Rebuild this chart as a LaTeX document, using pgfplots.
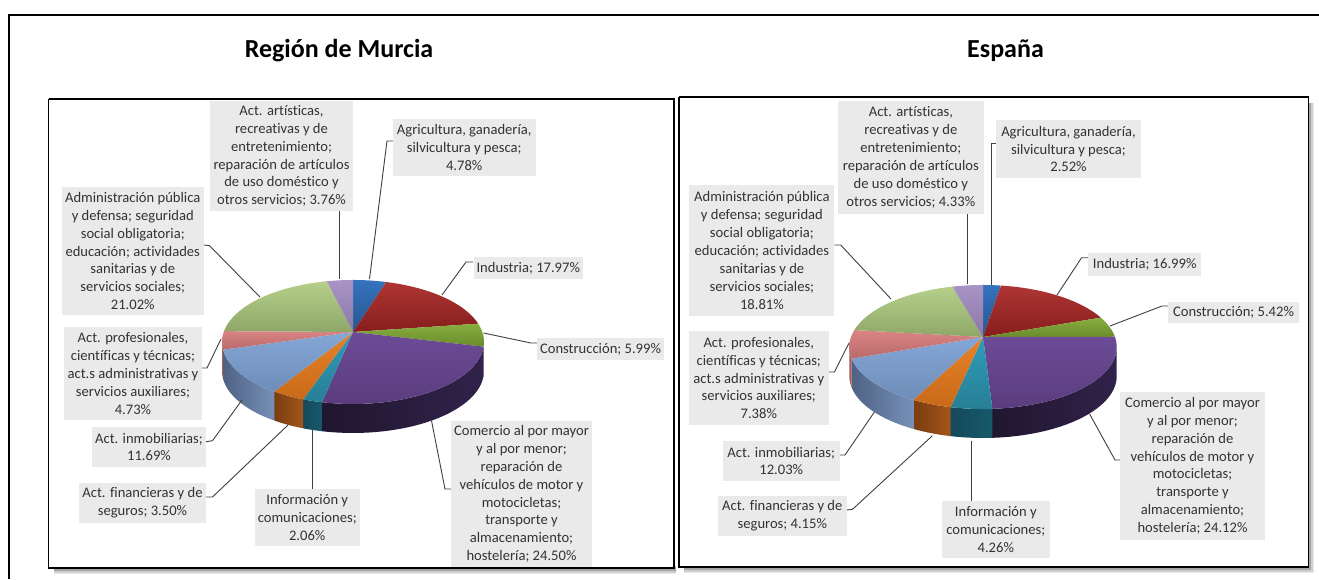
\documentclass[border=0pt]{standalone}
\usepackage{pgfplots}
\usepackage{fontspec}
\setmainfont{Carlito}[Ligatures=NoCommon]
\pgfplotsset{compat=1.18}
\definecolor{s1t}{HTML}{3673BE}\definecolor{s1b}{HTML}{26558F}\definecolor{s1l}{HTML}{26558F}\definecolor{s1r}{HTML}{1C3F6B}
\definecolor{s2t}{HTML}{AE3634}\definecolor{s2b}{HTML}{861E1C}\definecolor{s2l}{HTML}{7A1C1A}\definecolor{s2r}{HTML}{5E1412}
\definecolor{s3t}{HTML}{88AE3E}\definecolor{s3b}{HTML}{6A8C2C}\definecolor{s3l}{HTML}{55701F}\definecolor{s3r}{HTML}{445A18}
\definecolor{s4t}{HTML}{6C4C96}\definecolor{s4b}{HTML}{5A3C7E}\definecolor{s4l}{HTML}{30224A}\definecolor{s4r}{HTML}{21162F}
\definecolor{s5t}{HTML}{2F9CBA}\definecolor{s5b}{HTML}{277F95}\definecolor{s5l}{HTML}{15596B}\definecolor{s5r}{HTML}{154A5A}
\definecolor{s6t}{HTML}{E8822A}\definecolor{s6b}{HTML}{C86A18}\definecolor{s6l}{HTML}{A4561A}\definecolor{s6r}{HTML}{7A3D10}
\definecolor{s7t}{HTML}{85A7D7}\definecolor{s7b}{HTML}{6E8DB8}\definecolor{s7l}{HTML}{7690B8}\definecolor{s7r}{HTML}{4E6283}
\definecolor{s8t}{HTML}{DA8484}\definecolor{s8b}{HTML}{B86A6A}\definecolor{s8l}{HTML}{A85C5C}\definecolor{s8r}{HTML}{A85C5C}
\definecolor{s9t}{HTML}{B6D08A}\definecolor{s9b}{HTML}{8EA769}\definecolor{s9l}{HTML}{7F9558}\definecolor{s9r}{HTML}{7F9558}
\definecolor{s10t}{HTML}{A994C6}\definecolor{s10b}{HTML}{8A78A4}\definecolor{s10l}{HTML}{6E5F85}\definecolor{s10r}{HTML}{6E5F85}
\definecolor{boxg}{HTML}{EAEAEA}
\definecolor{leader}{HTML}{3F3F3F}
\newcommand\setpie[3]{\gdef\cx{#1}\gdef\cy{#2}\gdef\rb{#3}\gdef\running{0}}
\newcommand\buildarc[3]{%
  \pgfmathtruncatemacro\nn{max(2,ceil(abs(#2-#1)/3))}%
  \foreach \i in {0,...,\nn}{%
    \pgfmathsetmacro\ph{#1+(#2-#1)*\i/\nn}%
    \pgfmathsetmacro\den{1+0.161*cos(\ph)}%
    \pgfmathsetmacro\px{\cx+\rb*sin(\ph)/\den}%
    \pgfmathsetmacro\py{\cy-60.4*cos(\ph)/\den+#3}%
    \xdef\coords{\coords (\px,\py)}%
  }%
}
\newcommand\slice[2]{%
  \pgfmathsetmacro\ss{\running*3.6}%
  \pgfmathsetmacro\ee{(\running+#1)*3.6}%
  \pgfmathsetmacro\sa{max(\ss,99.3)}%
  \pgfmathsetmacro\sb{min(\ee,260.7)}%
  \pgfmathtruncatemacro\has{\sb>\sa}%
  \ifnum\has=1
    \gdef\coords{}%
    \buildarc{\sa}{\sb}{0}%
    \buildarc{\sb}{\sa}{29}%
    \edef\temp{\noexpand\addplot[draw=none,shade,left color=s#2r,right color=s#2l] coordinates {\coords};}%
    \temp
  \fi
  \xdef\coords{(\cx,\cy)}%
  \buildarc{\ss}{\ee}{0}%
  \edef\temp{\noexpand\addplot[draw=none,shade,top color=s#2t,bottom color=s#2b] coordinates {\coords};}%
  \temp
  \pgfmathsetmacro\nr{\running+#1}%
  \xdef\running{\nr}%
}
\newcommand\lab[5]{% x0 x1 y0 y1 text
  \pgfmathsetmacro\bx{(#1+#2)/2}\pgfmathsetmacro\by{(#3+#4)/2}%
  \pgfmathsetmacro\bw{#2-#1}\pgfmathsetmacro\bh{#4-#3}%
  \edef\temp{\noexpand\node[fill=boxg,inner sep=0pt,minimum width=\bw pt,minimum height=\bh pt,align=center,font=\noexpand\labfont,text=black!80] at (axis cs:\bx,\by)}%
  \temp {#5};%
}
\newcommand\labfont{\fontsize{14.6}{17.9}\selectfont}
\newcommand\lead[1]{\addplot[leader,line width=0.9pt] coordinates {#1};}
\newcommand\shadow[1]{%
  \addplot[black,line width=10pt,opacity=0.08] coordinates {#1};
  \addplot[black,line width=7pt,opacity=0.12] coordinates {#1};
  \addplot[black,line width=4pt,opacity=0.2] coordinates {#1};
}
\begin{document}
\begin{tikzpicture}
\useasboundingbox (0,0) rectangle (1319pt,579pt);
\begin{axis}[scale only axis,width=1319pt,height=579pt,xmin=0,xmax=1319,ymin=0,ymax=579,y dir=reverse,hide axis,no markers,clip=true]
% outer frame
\addplot[black,line width=2pt] coordinates {(9,579) (9,15) (1319,15)};
% panel shadows
\shadow{(54,569) (676,569)}
\shadow{(684,568) (1309,568) (1309,103)}
% panels
\addplot[white,fill=white,line width=1pt] coordinates {(48.5,99) (674,99) (674,568) (48.5,568) (48.5,99)};
\addplot[white,fill=white,line width=1pt] coordinates {(679,97) (1308.5,97) (1308.5,567) (679,567) (679,97)};
\addplot[black,line width=1.8pt] coordinates {(48.5,99) (674,99) (674,568) (48.5,568) (48.5,99)};
\addplot[black,line width=1.8pt] coordinates {(679,97) (1308.5,97) (1308.5,567) (679,567) (679,97)};
% Region de Murcia
\setpie{353}{332}{129.3}
\slice{4.78}{1}
\slice{17.97}{2}
\slice{5.99}{3}
\slice{24.50}{4}
\slice{2.06}{5}
\slice{3.50}{6}
\slice{11.69}{7}
\slice{4.73}{8}
\slice{21.02}{9}
\slice{3.76}{10}
% Espana
\setpie{983}{337}{132}
\slice{2.52}{1}
\slice{16.99}{2}
\slice{5.42}{3}
\slice{24.12}{4}
\slice{4.26}{5}
\slice{4.15}{6}
\slice{12.03}{7}
\slice{7.38}{8}
\slice{18.81}{9}
\slice{4.33}{10}
% leaders left
\lead{(339.5,211) (339.5,279)}
\lead{(393,141) (387,141) (369.5,279)}
\lead{(204,245) (209.5,245.7) (260,297)}
\lead{(473,262) (466,262) (442,295)}
\lead{(537,343) (531,343) (483.5,333)}
\lead{(202,368) (207,368) (221,339)}
\lead{(206,441.7) (212.5,440.7) (242,400)}
\lead{(206,497) (212.5,497) (288,425)}
\lead{(312.7,489) (312.7,430)}
\lead{(451,489) (445,489) (431.5,420.7)}
% leaders right
\lead{(967,214) (967,284)}
\lead{(996,143.3) (991,143.3) (991,285)}
\lead{(834.4,245) (840.7,245) (891,299)}
\lead{(1088,257.7) (1081.6,257.7) (1057,295)}
\lead{(1168,306) (1162,306) (1110,326)}
\lead{(829,372) (834.4,372) (849,343)}
\lead{(839.5,455) (845,455) (874.4,412)}
\lead{(846.6,510) (852.5,509.3) (932.4,435.7)}
\lead{(971,440.7) (971,500.7)}
\lead{(1120,460) (1115,460) (1089.6,414)}
% titles
\node[font=\fontsize{26}{30}\selectfont\bfseries,text=black] at (axis cs:339,51) {Región de Murcia};
\node[font=\fontsize{26}{30}\selectfont\bfseries,text=black] at (axis cs:1005.5,51) {España};
% labels left
\lab{210}{353}{101}{211}{Act. artísticas,\\recreativas y de\\entretenimiento;\\reparación de artículos\\de uso doméstico y\\otros servicios; 3.76\%}
\lab{393}{535.5}{119}{176}{Agricultura, ganadería,\\silvicultura y pesca;\\4.78\%}
\lab{61.5}{204}{187}{315}{Administración pública\\y defensa; seguridad\\social obligatoria;\\educación; actividades\\sanitarias y de\\servicios sociales;\\21.02\%}
\lab{473.5}{583}{257}{279}{Industria; 17.97\%}
\lab{537}{664}{338}{360}{Construcción; 5.99\%}
\lab{64}{202}{327}{420}{Act. profesionales,\\científicas y técnicas;\\act.s administrativas y\\servicios auxiliares;\\4.73\%}
\lab{92}{206}{427}{467}{Act. inmobiliarias;\\11.69\%}
\lab{79}{206}{483}{523}{Act. financieras y de\\seguros; 3.50\%}
\lab{254.5}{360}{489}{546}{Información y\\comunicaciones;\\2.06\%}
\lab{451}{592}{421}{567}{Comercio al por mayor\\y al por menor;\\reparación de\\vehículos de motor y\\motocicletas;\\transporte y\\almacenamiento;\\hostelería; 24.50\%}
% labels right
\lab{838}{983.7}{101}{214}{Act. artísticas,\\recreativas y de\\entretenimiento;\\reparación de artículos\\de uso doméstico y\\otros servicios; 4.33\%}
\lab{996}{1141}{120}{178}{Agricultura, ganadería,\\silvicultura y pesca;\\2.52\%}
\lab{689.4}{834.4}{185}{316}{Administración pública\\y defensa; seguridad\\social obligatoria;\\educación; actividades\\sanitarias y de\\servicios sociales;\\18.81\%}
\lab{1088}{1201.4}{253}{276}{Industria; 16.99\%}
\lab{1168}{1299}{302}{323}{Construcción; 5.42\%}
\lab{688.6}{829}{331}{425}{Act. profesionales,\\científicas y técnicas;\\act.s administrativas y\\servicios auxiliares;\\7.38\%}
\lab{723}{839.5}{441}{481}{Act. inmobiliarias;\\12.03\%}
\lab{718}{846.6}{496}{536}{Act. financieras y de\\seguros; 4.15\%}
\lab{941.6}{1050}{500.7}{558}{Información y\\comunicaciones;\\4.26\%}
\lab{1120}{1265}{391.7}{540}{Comercio al por mayor\\y al por menor;\\reparación de\\vehículos de motor y\\motocicletas;\\transporte y\\almacenamiento;\\hostelería; 24.12\%}
\end{axis}
\end{tikzpicture}
\end{document}
